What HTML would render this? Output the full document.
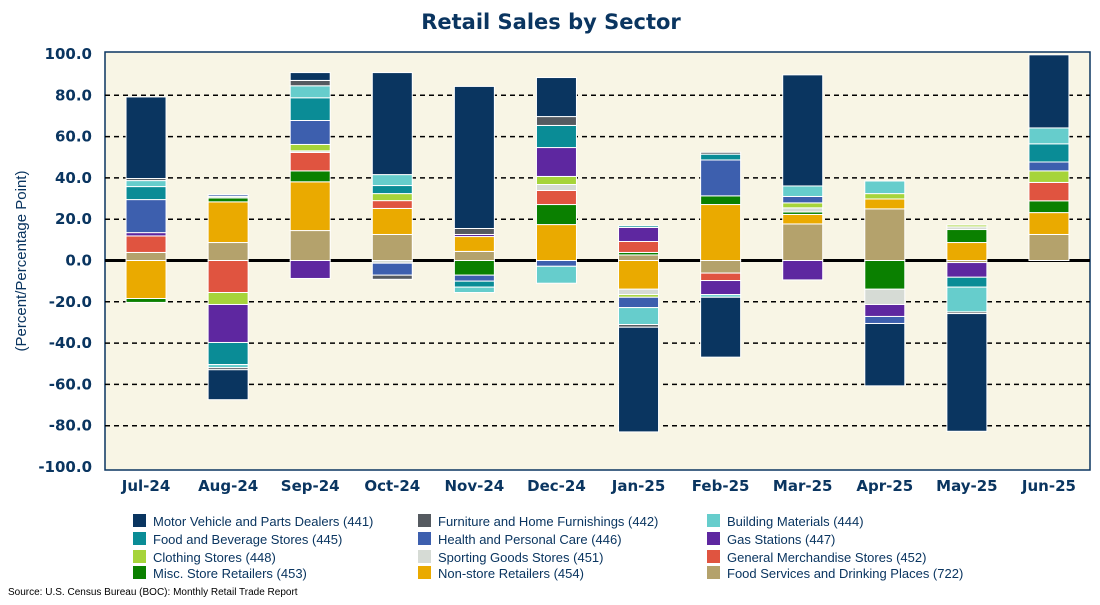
<!DOCTYPE html>
<html><head><meta charset="utf-8"><style>
body{margin:0;background:#fff;font-family:"Liberation Sans",sans-serif;}
svg text{font-family:"Liberation Sans",sans-serif;}
svg text.dv{font-family:"DejaVu Sans",sans-serif;}
</style></head><body>
<svg id="c" width="1100" height="600" xmlns="http://www.w3.org/2000/svg">
<text class="dv" x="551" y="29" text-anchor="middle" font-size="21" font-weight="bold" fill="#0a3560">Retail Sales by Sector</text>
<rect x="105" y="52" width="985" height="418" fill="#f8f5e5" stroke="#0a3560" stroke-width="1.5"/>
<g id="grid"></g><g id="bars"></g><g id="axes"></g><g id="legend"></g>
<text transform="translate(26,261) rotate(-90)" text-anchor="middle" font-size="15" fill="#0a3560">(Percent/Percentage Point)</text>
<text x="8" y="595" font-size="10" fill="#000">Source: U.S. Census Bureau (BOC): Monthly Retail Trade Report</text>
</svg>
<script>
const categories=["Jul-24","Aug-24","Sep-24","Oct-24","Nov-24","Dec-24","Jan-25","Feb-25","Mar-25","Apr-25","May-25","Jun-25"];
const yTicks=[100,80,60,40,20,0,-20,-40,-60,-80,-100];
const seriesNames=["Motor Vehicle and Parts Dealers (441)","Furniture and Home Furnishings (442)","Building Materials (444)","Food and Beverage Stores (445)","Health and Personal Care (446)","Gas Stations (447)","Clothing Stores (448)","Sporting Goods Stores (451)","General Merchandise Stores (452)","Misc. Store Retailers (453)","Non-store Retailers (454)","Food Services and Drinking Places (722)"];
const seriesColors=["#0a3560","#555a60","#66cdcc","#0a8c96","#3d5fae","#5e27a0","#a6d43a","#d6dbd5","#e05440","#0a8000","#eaaa00","#b4a26c"];
const motor=[39.5,-14.5,3.8,49.4,68.8,18.9,-50.7,-29,53.8,-30.2,-57,35.4];
const furniture=[1,-1,2.6,-2,2.9,4.3,-1.3,0.9,0,0,-0.8,0];
const building=[2.9,-1.5,5.8,5.3,-2.6,-8.2,-8.2,-1.3,5.1,6.1,-12,7.7];
const foodBev=[6.3,-10.7,11,3.9,-2.9,10.7,0.8,2.8,0,0,-4.8,8.8];
const health=[16,0.8,11.6,-5.8,-2.9,-2.8,-5,17.4,3.1,-3.4,0,4.3];
const gas=[1.6,-18.4,-8.7,0,1,14,6.8,-6.8,-9.4,-5.8,-7.1,0];
const clothing=[0,-5.8,3.1,3.4,0,3.9,-1.3,0,2.4,2.6,0.9,5.6];
const sporting=[0,0.8,0.8,-1.3,0,2.9,-2.6,0,2,-7.4,1.3,0];
const genMerch=[8,-15.5,8.9,3.8,0,6.8,5.3,-3.6,0,0,0,8.9];
const misc=[-1.9,1.9,5.3,0,-7.1,9.7,1.2,4.2,1.2,-13.9,6.3,5.7];
const nonStore=[-18.4,19.7,23.6,12.6,7.2,17.4,-13.9,27.1,4.6,4.8,8.7,10.6];
const foodSvc=[3.9,8.7,14.5,12.6,4.4,0,2.7,-6.1,17.7,25,-1,12.6];
const series=[motor,furniture,building,foodBev,health,gas,clothing,sporting,genMerch,misc,nonStore,foodSvc];
const NS="http://www.w3.org/2000/svg";
const x0=105,pw=985,yTop=54,yBot=467,barW=40;
const step=pw/categories.length;
function xC(i){return x0+step*(i+0.5);}
function yS(v){return yTop+(100-v)/200*(yBot-yTop);}
function mk(tag,attrs,parent){const e=document.createElementNS(NS,tag);for(const k in attrs)e.setAttribute(k,attrs[k]);parent.appendChild(e);return e;}
const grid=document.getElementById('grid'),bars=document.getElementById('bars'),axes=document.getElementById('axes'),leg=document.getElementById('legend');
yTicks.forEach(t=>{
  if(t!==0&&t!==100&&t!==-100){const l=mk('line',{x1:x0,x2:x0+pw,y1:yS(t),y2:yS(t),stroke:'#000','stroke-width':1.5,'stroke-dasharray':'5,4'},grid);
  
  }
  const tx=mk('text',{class:'dv',x:92,y:yS(t)+5,'text-anchor':'end','font-size':15,'font-weight':'bold',fill:'#0a3560'},axes);
  tx.textContent=t.toFixed(1);
  
  
});
categories.forEach((c,i)=>{
  let pos=0,neg=0;
  for(let s=series.length-1;s>=0;s--){
    const v=series[s][i];if(!v)continue;
    let a,b;if(v>0){a=pos;b=pos+v;pos=b;}else{a=neg;b=neg+v;neg=b;}
    const y1=yS(Math.max(a,b)),y2=yS(Math.min(a,b));
    const r=mk('rect',{x:xC(i)-barW/2,y:y1,width:barW,height:y2-y1,fill:seriesColors[s],stroke:'#fff','stroke-width':1},bars);
    
    
  }
  const tx=mk('text',{class:'dv',x:xC(i),y:491,'text-anchor':'middle','font-size':15,'font-weight':'bold',fill:'#0a3560'},axes);
  tx.textContent=c;
  
  
});
const zl=mk('line',{x1:x0,x2:x0+pw,y1:yS(0),y2:yS(0),stroke:'#000','stroke-width':3},grid);


bars.parentNode.appendChild(bars);
const colX=[133,418,707],rowY=[521,539,557,573];
const legOrder=[[0,1,2],[3,4,5],[6,7,8],[9,10,11]];
legOrder.forEach((row,r)=>row.forEach((s,c)=>{
  const g=mk('g',{},leg);
  
  
  mk('rect',{x:colX[c],y:rowY[r]-7,width:13,height:13,fill:seriesColors[s]},g);
  const t=mk('text',{x:colX[c]+20,y:rowY[r]+5,'font-size':13,fill:'#0a3560'},g);
  t.textContent=seriesNames[s];
}));
</script>
</body></html>
